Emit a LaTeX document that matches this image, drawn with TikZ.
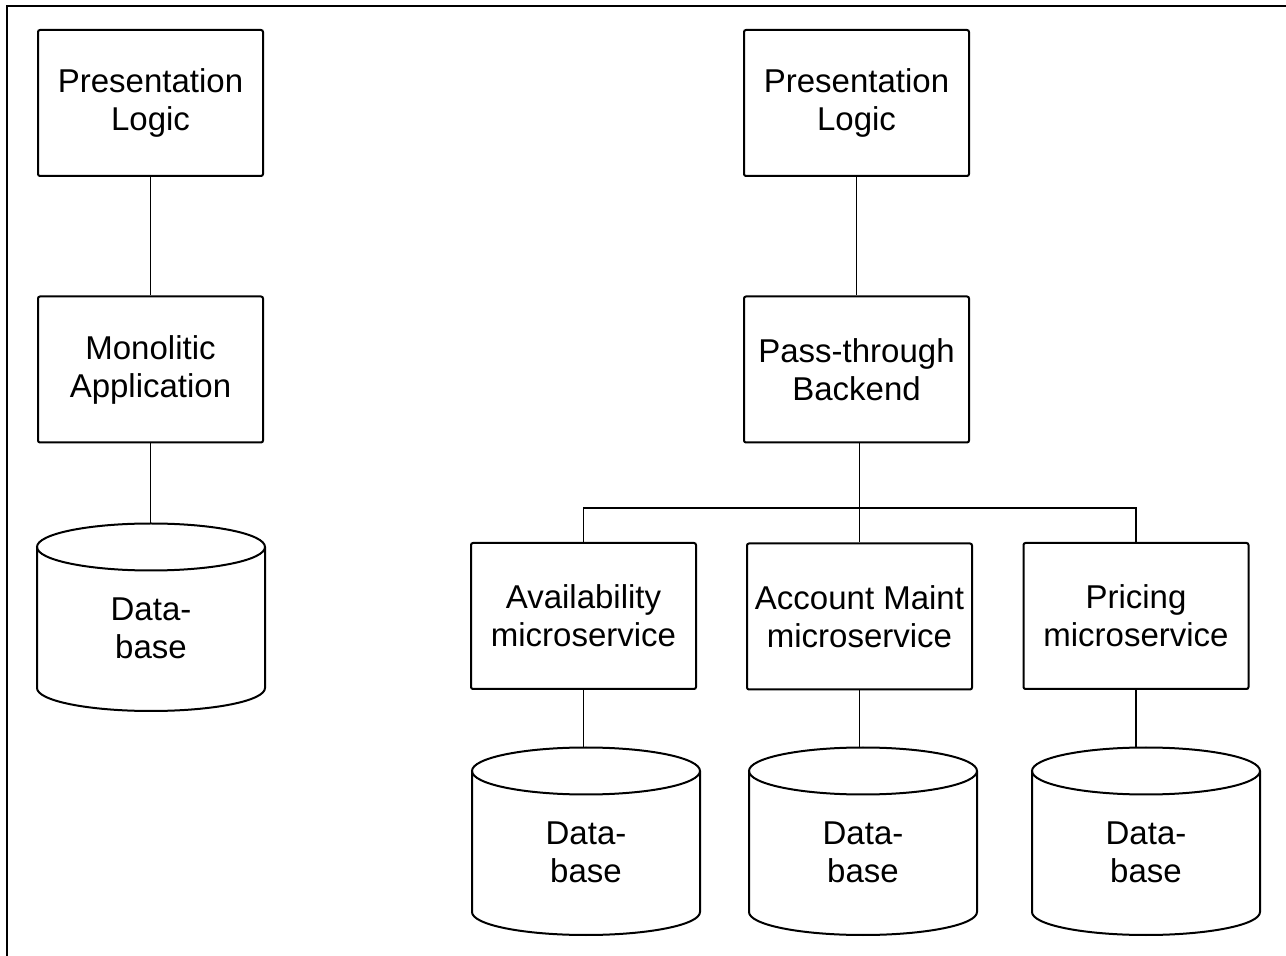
\documentclass[tikz,border=0pt]{standalone}
\usepackage{fontspec}
\setmainfont{Liberation Sans}
\begin{document}
\begin{tikzpicture}[x=0.5pt,y=-0.5pt,
  txt/.style={font=\fontsize{16.5}{19}\selectfont, align=center},
  box/.style={txt, draw, line width=1pt, rounded corners=1pt, minimum width=112.5pt, minimum height=73pt, inner sep=0pt},
  link/.style={line width=0.9pt},
  db/.pic={
    \draw[line width=1pt] (-114,0) -- (-114,141) arc[start angle=180, end angle=360, x radius=57pt, y radius=11.5pt] -- (114,0);
    \draw[line width=1pt] (0,0) ellipse [x radius=57pt, y radius=11.75pt];
    \coordinate (-top) at (0,-23.5);
    \node[txt, inner sep=0pt] (-lbl) at (0,81) {Data-\\base};
  }]
\useasboundingbox (0,0) rectangle (1286,956);
\draw[line width=1pt] (7,956) -- (7,6) -- (1286,6);

% left column
\node[box] (pl1) at (150.5,103) {Presentation\\Logic};
\node[box] (mono) at (150.5,369.5) {Monolitic\\Application};
\pic (db1) at (151,547) {db};

% right column
\node[box] (pl2) at (856.5,103) {Presentation\\Logic};
\node[box] (pass) at (856.5,369.5) {Pass-through\\Backend};
\node[box] (avail) at (583.5,616) {Availability\\microservice};
\node[box] (acct) at (859.5,616.5) {Account Maint\\microservice};
\node[box] (price) at (1136,616) {Pricing\\microservice};
\pic (db2) at (586,771) {db};
\pic (db3) at (863,771) {db};
\pic (db4) at (1146,771) {db};

\coordinate (bus) at (860,508);

% connectors
\draw[link] (pl1.south) -- (mono.north);
\draw[link] (mono.south) -- (mono.south |- db1-top);
\draw[link] (pl2.south) -- (pass.north);
\draw[link] (pass.south -| acct.north) -- (acct.north);
\draw[link] (avail.north) -- (avail.north |- bus) -- (price.north |- bus) -- (price.north);
\draw[link] (avail.south) -- (avail.south |- db2-top);
\draw[link] (acct.south) -- (acct.south |- db3-top);
\draw[link] (price.south) -- (price.south |- db4-top);
\end{tikzpicture}
\end{document}
